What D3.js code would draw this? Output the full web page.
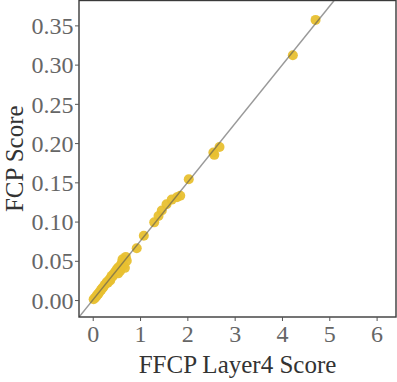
<!DOCTYPE html>
<html><head><meta charset="utf-8">
<script src="https://cdn.jsdelivr.net/npm/d3@7"></script>
<style>body{margin:0;background:#fff} text{font-family:'Liberation Serif', serif;}</style>
</head><body>
<svg id="c" width="397" height="382"></svg>
<script>
const xVals = [0.02,0.05,0.08,0.10,0.12,0.15,0.18,0.20,0.22,0.25,0.28,0.30,0.32,0.35,0.37,0.38,0.40,0.42,0.45,0.48,0.50,0.52,0.54,0.55,0.58,0.60,0.62,0.63,0.65,0.68,0.70,0.72,0.93,1.08,1.30,1.39,1.46,1.56,1.67,1.78,1.85,2.03,2.55,2.57,2.68,4.23,4.71];
const yVals = [0.001,0.003,0.005,0.007,0.008,0.011,0.013,0.015,0.016,0.019,0.021,0.023,0.022,0.026,0.025,0.028,0.031,0.030,0.034,0.036,0.038,0.040,0.034,0.042,0.037,0.045,0.048,0.052,0.044,0.041,0.055,0.050,0.066,0.082,0.099,0.107,0.114,0.122,0.128,0.131,0.133,0.154,0.188,0.185,0.195,0.312,0.357];
const xTicks = [0,1,2,3,4,5,6];
const yTicks = [0,0.05,0.10,0.15,0.20,0.25,0.30,0.35];
const fitSlope = 0.0748;
const xLabel = "FFCP Layer4 Score";
const yLabel = "FCP Score";

const svg = d3.select("#c");
const L = 79, R = 396, T = 0.5, B = 317;
const x = d3.scaleLinear().domain([-0.29, 6.41]).range([L, R]);
const y = d3.scaleLinear().domain([-0.0216, 0.3817]).range([B, T]);

const data = xVals.map((v,i)=>({x:v,y:yVals[i]}));

svg.append("g").selectAll("circle").data(data).join("circle")
  .attr("cx", d=>x(d.x)).attr("cy", d=>y(d.y)).attr("r", 5)
  .attr("fill", "#E8C030").attr("fill-opacity", 0.95);

const x0 = x.domain()[0], x1 = x.domain()[1];
svg.append("defs").append("clipPath").attr("id","clip").append("rect")
  .attr("x",L).attr("y",T).attr("width",R-L).attr("height",B-T);
svg.append("line").attr("clip-path","url(#clip)")
  .attr("x1", x(x0)).attr("y1", y(x0*fitSlope))
  .attr("x2", x(x1)).attr("y2", y(x1*fitSlope))
  .attr("stroke", "#555").attr("stroke-opacity", 0.6).attr("stroke-width", 1.5);

svg.append("rect").attr("x", L).attr("y", T).attr("width", R-L).attr("height", B-T)
  .attr("fill","none").attr("stroke","#3a3a3a").attr("stroke-width",1.4);

const xAxis = svg.append("g").attr("transform",`translate(0,${B})`)
  .call(d3.axisBottom(x).tickValues(xTicks).tickFormat(d3.format("d")).tickSize(4).tickPadding(4));
const yAxis = svg.append("g").attr("transform",`translate(${L},0)`)
  .call(d3.axisLeft(y).tickValues(yTicks).tickFormat(d3.format(".2f")).tickSize(4).tickPadding(1.5));
[xAxis,yAxis].forEach(g=>{
  g.attr("font-family","Liberation Serif").attr("font-size",24);
  g.select(".domain").remove();
  g.selectAll(".tick line").attr("stroke","#555");
  g.selectAll(".tick text").attr("fill","#666")
    .attr("font-family","Liberation Serif").attr("font-size",24);
});
yAxis.selectAll(".tick text").attr("dy","0.34em");

svg.append("text").attr("x",(L+R)/2).attr("y",373)
  .attr("text-anchor","middle").attr("fill","#333")
  .attr("font-family","Liberation Serif").attr("font-size",25).text(xLabel);
svg.append("text").attr("transform",`translate(23,${(T+B)/2}) rotate(-90)`)
  .attr("text-anchor","middle").attr("fill","#333")
  .attr("font-family","Liberation Serif").attr("font-size",25).text(yLabel);
</script>
</body></html>
